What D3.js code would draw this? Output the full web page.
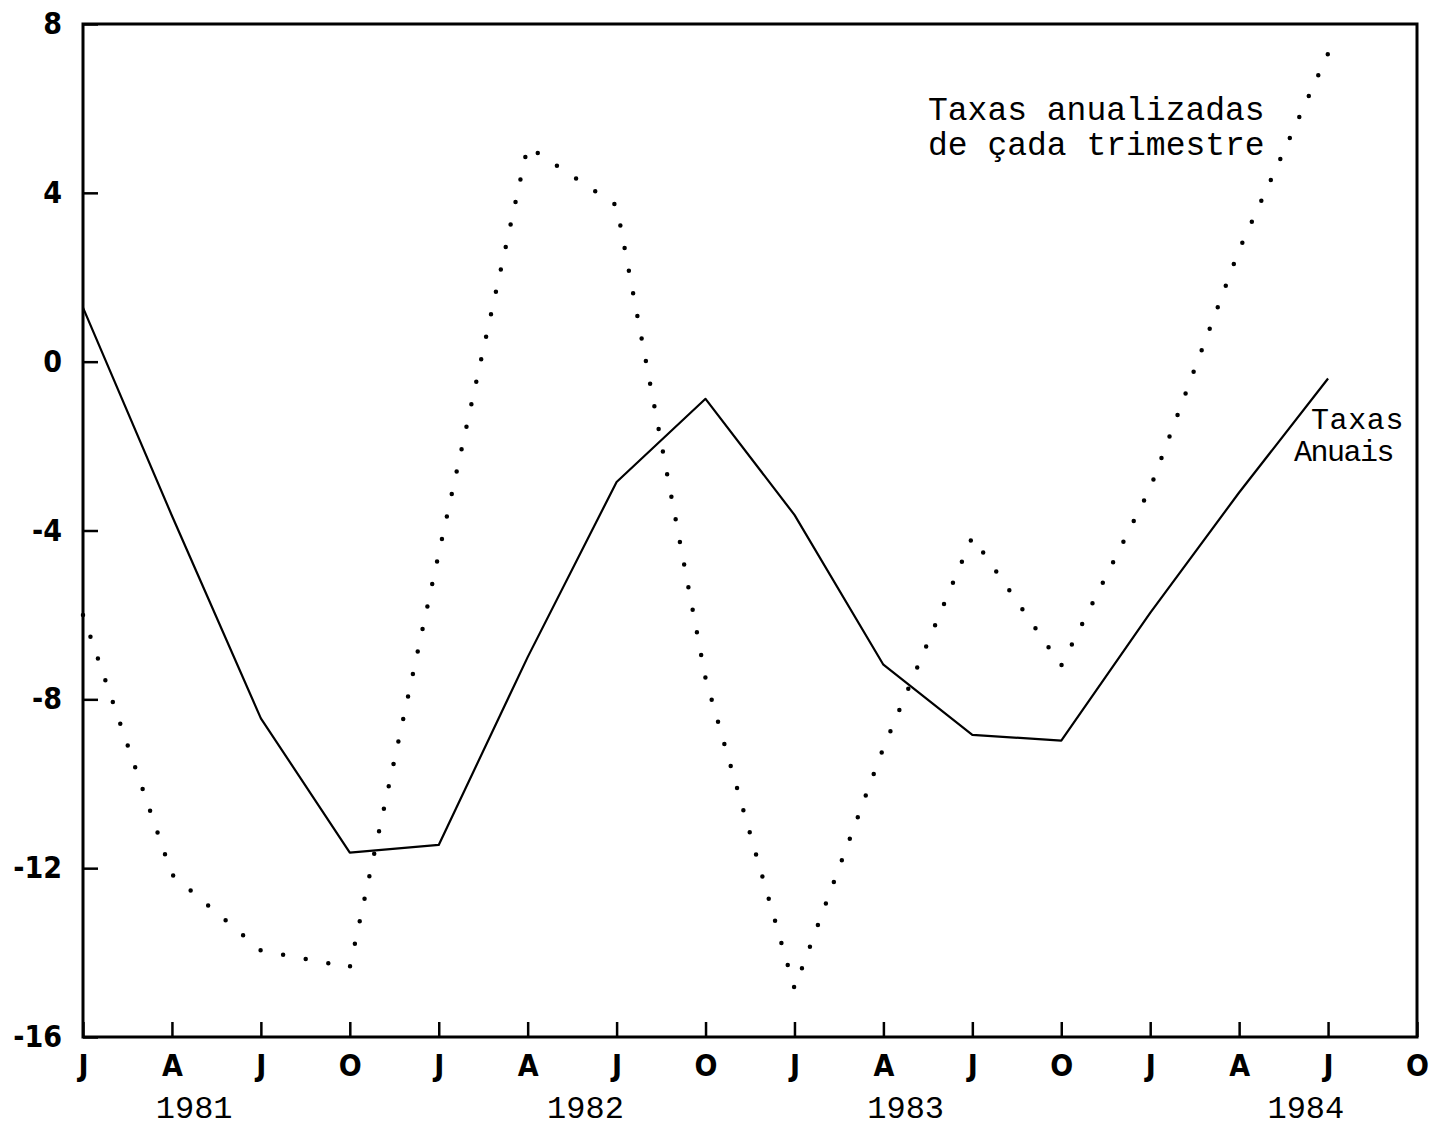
<!DOCTYPE html>
<html>
<head>
<meta charset="utf-8">
<script src="https://cdn.jsdelivr.net/npm/d3@7"></script>
<style>
  body { margin: 0; background: #fff; }
  svg { display: block; }
</style>
</head>
<body>
<div id="chart"></div>
<script>
// quarter labels along the bottom, J81 .. O84
var months = ["J","A","J","O","J","A","J","O","J","A","J","O","J","A","J","O"];
var years = ["1981","1982","1983","1984"];
var yTicks = [8, 4, 0, -4, -8, -12, -16];

// Taxas Anuais (solid), one value per quarter J81 .. J84
var anuais = [1.28, -3.65, -8.45, -11.63, -11.45, -7.0, -2.85, -0.88, -3.63, -7.18, -8.84, -8.98, -5.95, -3.1, -0.4];
// Taxas anualizadas de cada trimestre (dotted)
var trimestrais = [-6.0, -12.15, -13.95, -14.35, -4.55, 5.1, 3.7, -7.5, -14.85, -9.15, -4.15, -7.2, -3.0, 2.65, 7.3];

var width = 1432, height = 1129;
var plotL = 83, plotR = 1417, plotT = 24, plotB = 1037;

// where the year captions sit, in quarter units
var yearPos = [1.25, 5.65, 9.25, 13.75];

var svg = d3.select("#chart").append("svg")
    .attr("width", width)
    .attr("height", height);

svg.append("rect").attr("width", width).attr("height", height).attr("fill", "#fff");

var x = d3.scaleLinear().domain([0, 15]).range([plotL, plotR]);
var y = d3.scaleLinear().domain([-16, 8]).range([plotB, plotT]);

var tickFont = "'DejaVu Sans', sans-serif";
var typeFont = "'Liberation Mono', 'Courier New', monospace";

// bottom axis, ticks point inward
var xAxis = svg.append("g")
    .attr("transform", "translate(0," + plotB + ")")
    .call(d3.axisBottom(x)
        .tickValues(d3.range(16))
        .tickSize(-15)
        .tickPadding(18)
        .tickFormat(function(d) { return months[d]; }));

var yAxis = svg.append("g")
    .attr("transform", "translate(" + plotL + ",0)")
    .call(d3.axisLeft(y)
        .tickValues(yTicks)
        .tickSize(-15)
        .tickPadding(21)
        .tickFormat(function(d) { return d < 0 ? "-" + Math.abs(d) : d; }));

[xAxis, yAxis].forEach(function(g) {
    g.select(".domain").remove();
    g.selectAll(".tick line").attr("stroke", "#000").attr("stroke-width", 2.5);
    g.selectAll(".tick text")
        .attr("fill", "#000")
        .style("font-family", tickFont)
        .style("font-stretch", "condensed")
        .style("font-weight", "bold")
        .style("font-size", "30px");
});

// frame
svg.append("rect")
    .attr("x", plotL).attr("y", plotT)
    .attr("width", plotR - plotL).attr("height", plotB - plotT)
    .attr("fill", "none")
    .attr("stroke", "#000")
    .attr("stroke-width", 3);

// year captions
svg.selectAll(".year")
    .data(years)
    .enter()
    .append("text")
    .attr("class", "year")
    .attr("x", function(d, i) { return x(yearPos[i]); })
    .attr("y", 1118)
    .attr("text-anchor", "middle")
    .style("font-family", typeFont)
    .style("font-size", "32px")
    .text(function(d) { return d; });

var line = d3.line()
    .x(function(d, i) { return x(i); })
    .y(function(d) { return y(d); });

svg.append("path")
    .datum(anuais)
    .attr("d", line)
    .attr("fill", "none")
    .attr("stroke", "#000")
    .attr("stroke-width", 2.2)
    .attr("stroke-linejoin", "round");

svg.append("path")
    .datum(trimestrais)
    .attr("d", line)
    .attr("fill", "none")
    .attr("stroke", "#000")
    .attr("stroke-width", 4.5)
    .attr("stroke-linecap", "round")
    .attr("stroke-dasharray", "0 23");

// series labels
var lab1 = svg.append("text")
    .style("font-family", typeFont)
    .style("font-size", "33px");
lab1.append("tspan").attr("x", 928).attr("y", 120).text("Taxas anualizadas");
lab1.append("tspan").attr("x", 928).attr("y", 155).text("de çada trimestre");

svg.append("text")
    .attr("x", 1311).attr("y", 429)
    .attr("letter-spacing", "0.6px")
    .style("font-family", typeFont)
    .style("font-size", "30px")
    .text("Taxas");

svg.append("text")
    .attr("x", 1294).attr("y", 461)
    .attr("letter-spacing", "-1.5px")
    .style("font-family", typeFont)
    .style("font-size", "30px")
    .text("Anuais");
</script>
</body>
</html>
